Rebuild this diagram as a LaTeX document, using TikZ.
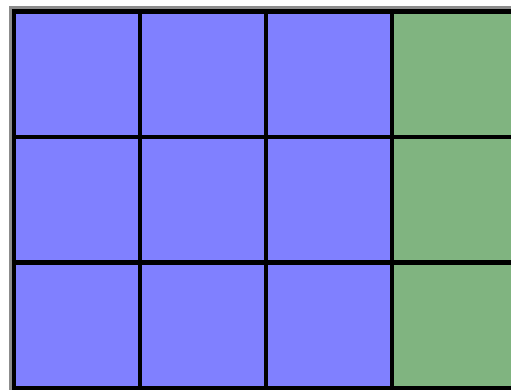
\documentclass[tikz,border=0pt]{standalone}
\definecolor{cellblue}{RGB}{128,128,255}
\definecolor{cellgreen}{RGB}{128,180,128}
\tikzset{gridline/.style={black,line width=4.2pt},
         frameline/.style={gray!90,line width=3pt}}
\begin{document}
\begin{tikzpicture}[x=1pt,y=-1pt]
\useasboundingbox (0,0) rectangle (511,389);
\clip (0,0) rectangle (511,389);
\fill[white] (0,0) rectangle (511,389);
% cells
\foreach \c in {0,1,2}{
  \foreach \r in {0,1,2}{
    \fill[cellblue] ({14+126*\c},{11.5+125.5*\r}) rectangle ({14+126*(\c+1)},{11.5+125.5*(\r+1)});
  }
}
\foreach \r in {0,1,2}{
  \fill[cellgreen] (392,{11.5+125.5*\r}) rectangle (520,{11.5+125.5*(\r+1)});
}
% outer gray frame (top and left)
\draw[frameline] (10.2,400) -- (10.2,7.3) -- (520,7.3);
% grid lines
\foreach \x in {14,140,266,392}{
  \draw[gridline] (\x,9.4) -- (\x,400);
}
\foreach \y in {11.5,137,262.5,388}{
  \draw[gridline] (11.9,\y) -- (520,\y);
}
\end{tikzpicture}
\end{document}
